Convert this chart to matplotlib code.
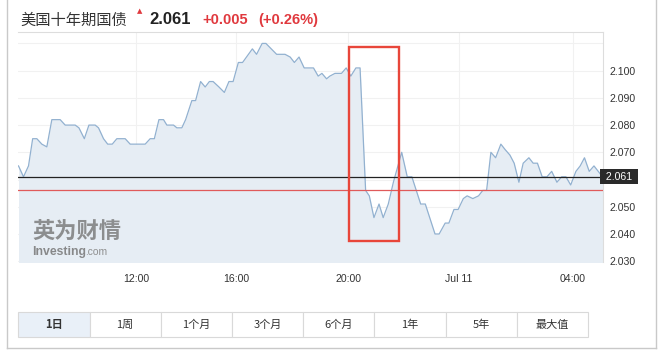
import matplotlib
matplotlib.use('Agg')
import matplotlib.pyplot as plt
from matplotlib.patches import Rectangle
from matplotlib.lines import Line2D
import matplotlib.transforms as mtransforms
import numpy as np

plt.rcParams['font.family'] = ['Liberation Sans', 'Noto Sans CJK SC', 'DejaVu Sans']

# --- data (US 10y treasury, 1 day) ---
times = ["07:18", "07:30", "07:42", "07:52", "08:02", "08:14", "08:26", "08:38", "08:58", "09:10",
         "09:34", "09:43", "09:56", "10:07", "10:22", "10:30", "10:42", "10:52", "11:03", "11:14",
         "11:34", "11:46", "12:22", "12:34", "12:44", "12:55", "13:06", "13:14", "13:30", "13:38",
         "13:50", "13:59", "14:14", "14:23", "14:35", "14:46", "14:56", "15:05", "15:19", "15:32",
         "15:43", "15:53", "16:05", "16:14", "16:35", "16:44", "16:56", "17:04", "17:27", "17:45",
         "17:56", "18:05", "18:15", "18:26", "18:46", "18:56", "19:04", "19:14", "19:21", "19:32",
         "19:46", "19:56", "20:06", "20:17", "20:26", "20:38", "20:46", "20:56", "21:07", "21:16",
         "21:27", "21:38", "21:56", "22:08", "22:18", "22:37", "22:47", "23:08", "23:17", "23:30",
         "23:38", "23:49", "23:58", "00:09", "00:17", "00:29", "00:41", "00:50", "00:58", "01:07",
         "01:17", "01:28", "01:37", "01:47", "01:56", "02:06", "02:15", "02:27", "02:36", "02:45",
         "02:55", "03:05", "03:15", "03:26", "03:36", "03:45", "03:55", "04:06", "04:15", "04:24",
         "04:34", "04:44", "04:53", "05:02"]
yields = [2.065, 2.061, 2.065, 2.075, 2.075, 2.073, 2.072, 2.082, 2.082, 2.080,
          2.080, 2.079, 2.075, 2.080, 2.080, 2.079, 2.075, 2.073, 2.073, 2.075,
          2.075, 2.073, 2.073, 2.075, 2.075, 2.082, 2.082, 2.080, 2.080, 2.079,
          2.079, 2.082, 2.089, 2.089, 2.096, 2.094, 2.096, 2.096, 2.094, 2.092,
          2.096, 2.096, 2.103, 2.103, 2.108, 2.106, 2.110, 2.110, 2.106, 2.106,
          2.105, 2.103, 2.105, 2.101, 2.101, 2.098, 2.099, 2.097, 2.098, 2.099,
          2.099, 2.101, 2.098, 2.101, 2.101, 2.056, 2.054, 2.046, 2.051, 2.046,
          2.051, 2.059, 2.070, 2.061, 2.061, 2.051, 2.051, 2.040, 2.040, 2.044,
          2.044, 2.049, 2.049, 2.053, 2.054, 2.053, 2.054, 2.056, 2.056, 2.070,
          2.068, 2.073, 2.071, 2.069, 2.066, 2.059, 2.066, 2.068, 2.066, 2.066,
          2.061, 2.061, 2.063, 2.059, 2.061, 2.061, 2.058, 2.063, 2.065, 2.068,
          2.063, 2.065, 2.063, 2.061]
last_price = 2.061
prev_close = 2.056
tick_times = ["12:00", "16:00", "20:00", "00:00", "04:00"]
tick_labels = ["12:00", "16:00", "20:00", "Jul 11", "04:00"]
ytick_vals = [2.030, 2.040, 2.050, 2.060, 2.070, 2.080, 2.090, 2.100, 2.110]
ytick_labels = ["2.030", "2.040", "2.050", "", "2.070", "2.080", "2.090", "2.100", ""]
buttons = ["1日", "1周", "1个月", "3个月", "6个月", "1年", "5年", "最大值"]
box_times = ["20:03", "21:51"]   # highlighted drop
box_range = [2.0374, 2.1087]


def to_minutes(lst):
    out, day = [], 0
    prev = -1
    for s in lst:
        h, m = s.split(":")
        v = int(h) * 60 + int(m)
        if v < prev:
            day += 1440
        prev = v
        out.append(v + day)
    return np.array(out, dtype=float)


t = to_minutes(times)
ticks_t = to_minutes(tick_times)
box_t = to_minutes(box_times)

W, H = 660, 350
fig = plt.figure(figsize=(W / 100, H / 100), dpi=100)


def fx(x):
    return x / W


def fy(y):
    return 1 - y / H


# axis spacing on the site is not uniform in time
knot_t = np.array([300, 720, 960, 1200, 1440, 1680, 1900], dtype=float)
knot_p = np.array([-39, 136, 236, 348, 459, 573, 677.5])

ax = fig.add_axes([fx(18), fy(262), fx(585), 230 / H])
ax.set_xscale('function', functions=(lambda v: np.interp(v, knot_t, knot_p),
                                      lambda p: np.interp(p, knot_p, knot_t)))
ax.set_xlim(436.8, 1743)
ax.set_ylim(2.0297, 2.1142)

ax.fill_between(t, yields, 2.0, color='#e6edf4', lw=0, zorder=1)
ax.plot(t, yields, color='#92b1d0', lw=0.9, zorder=3)
ax.axhline(last_price, color='#222222', lw=0.9, zorder=4)
ax.axhline(prev_close, color='#e05a5a', lw=0.9, zorder=4)

ax.set_xticks(ticks_t)
ax.set_xticklabels(tick_labels)
ax.set_yticks(ytick_vals)
ax.set_yticklabels(ytick_labels)
ax.yaxis.tick_right()
ax.tick_params(axis='both', length=0, labelsize=7.6, colors='#333333')
ax.tick_params(axis='x', pad=9)
ax.tick_params(axis='y', pad=5)
ax.grid(True, color='#f1f1f1', lw=0.8, zorder=0)
ax.set_axisbelow(True)
for side in ['left', 'bottom']:
    ax.spines[side].set_visible(False)
for side in ['top', 'right']:
    ax.spines[side].set_color('#dddddd')
    ax.spines[side].set_linewidth(0.8)

trans = mtransforms.blended_transform_factory(ax.transAxes, ax.transData)
ax.text(1.0, last_price, " %.3f " % last_price, transform=trans, ha='left', va='center',
        color='white', fontsize=7.6, zorder=6,
        bbox=dict(boxstyle='square,pad=0.25', fc='#2a2a2a', ec='none'))

ax.add_patch(Rectangle((box_t[0], box_range[0]), box_t[1] - box_t[0], box_range[1] - box_range[0],
                       fill=False, ec='#e8463a', lw=1.7, zorder=7, clip_on=False))

# watermark
ax.text(0.024, 0.135, "英为财情", transform=ax.transAxes, fontsize=16, fontweight='bold',
        color='#7d7d7d', alpha=0.85, family=['Noto Sans CJK SC'], va='center', zorder=2)
ax.text(0.024, 0.045, "Investing", transform=ax.transAxes, fontsize=8.8, fontweight='bold',
        color='#7d7d7d', alpha=0.9, va='center', zorder=2)
ax.text(0.114, 0.043, ".com", transform=ax.transAxes, fontsize=7.4, color='#8f8f8f',
        va='center', zorder=2)

# header
fig.text(fx(20), fy(20), "美国十年期国债", fontsize=11, color='#333333',
         family=['Noto Sans CJK SC'], va='center')
fig.text(fx(140), fy(11), "▲", fontsize=5, color='#e0393e', ha='center', va='center',
         family=['DejaVu Sans'])
fig.text(fx(149), fy(20), "%.3f" % last_price, fontsize=12, fontweight='bold', color='#222222',
         va='center')
fig.text(fx(202), fy(20), "+0.005", fontsize=10.5, fontweight='bold', color='#e0393e', va='center')
fig.text(fx(258), fy(20), "(+0.26%)", fontsize=10.5, fontweight='bold', color='#e0393e', va='center')

# range buttons
bx0, bw, by0, bh = 18.3, 71.2, 312.3, 25
for i, name in enumerate(buttons):
    x0 = bx0 + i * bw
    fig.patches.append(Rectangle((fx(x0), fy(by0 + bh)), fx(bw), bh / H,
                                 transform=fig.transFigure,
                                 fc='#e9f0f8' if i == 0 else 'white', ec='#d9d9d9', lw=0.8))
    fig.text(fx(x0 + bw / 2), fy(by0 + bh / 2), name, ha='center', va='center',
             fontsize=8, color='#333333', family=['Noto Sans CJK SC'],
             fontweight='bold' if i == 0 else 'normal')

# outer frame
for xs, ys in [([7, 7], [0, 348]), ([655.5, 655.5], [0, 348]), ([7, 655.5], [348, 348])]:
    fig.lines.append(Line2D([fx(v) for v in xs], [fy(v) for v in ys], transform=fig.transFigure,
                            color='#c9c9c9', lw=1.0))

fig.savefig('out.png', dpi=100)
